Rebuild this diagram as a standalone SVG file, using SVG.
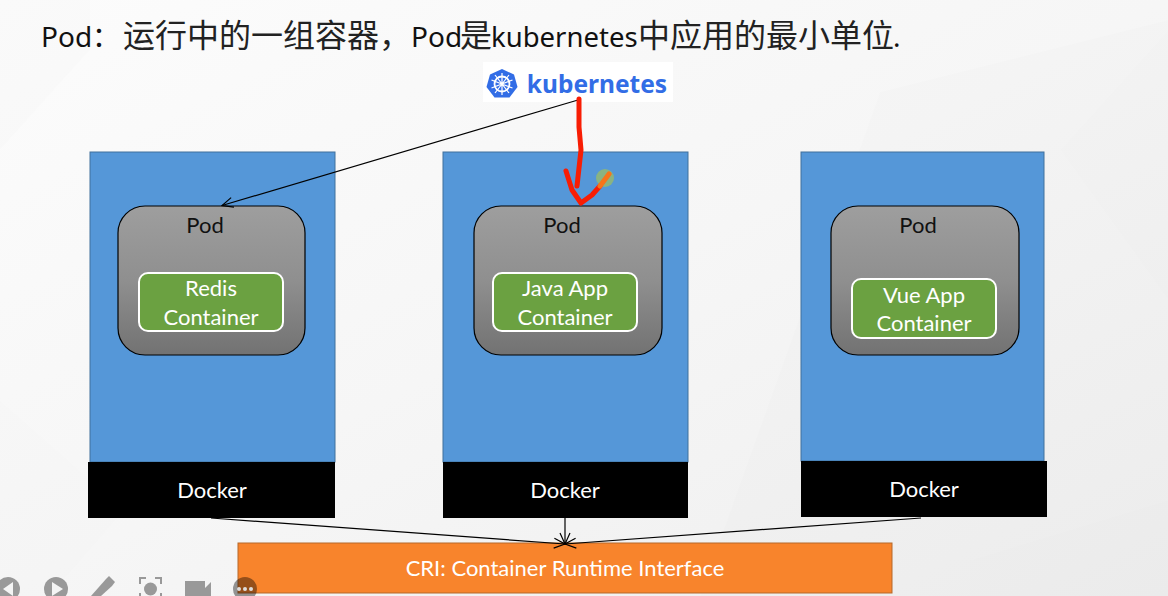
<svg xmlns="http://www.w3.org/2000/svg" width="1168" height="596" viewBox="0 0 1168 596">
<style>
.host{fill:#5597d8;stroke:#41719c;stroke-width:1}
.dock{fill:#000}
.pod{fill:url(#podg);stroke:#000;stroke-width:1.2}
.ctr{fill:#6ba141;stroke:#fff;stroke-width:2}
text{font-family:"Lato","Noto Sans CJK SC",sans-serif;text-anchor:middle}
.p{font-size:22px;fill:#111}
.c{font-size:22px;fill:#fff}
.d{font-size:22px;fill:#fff}
.t{font-family:"Noto Sans","Noto Sans CJK SC",sans-serif;font-size:28px;fill:#111;text-anchor:start}
.z{font-family:"Noto Sans CJK SC",sans-serif;font-size:32px;fill:#222}
.line{fill:none;stroke:#000;stroke-width:1.2}
.ink{fill:none;stroke:#f81d04;stroke-width:5;stroke-linecap:round;stroke-linejoin:round}
.ui{fill:#999}
</style>
<defs>
<linearGradient id="podg" x1="0" y1="0" x2="0" y2="1"><stop offset="0" stop-color="#9e9e9e"/><stop offset="0.5" stop-color="#8f8f8f"/><stop offset="1" stop-color="#727272"/></linearGradient>
<linearGradient id="bg" x1="0" y1="0" x2="1" y2="1"><stop offset="0" stop-color="#fcfcfc"/><stop offset="0.5" stop-color="#f6f6f6"/><stop offset="1" stop-color="#eeeeee"/></linearGradient>
<marker id="arr" viewBox="0 0 14 12" refX="13" refY="6" markerWidth="14" markerHeight="12" markerUnits="userSpaceOnUse" orient="auto"><path d="M2 1L13 6L2 11" fill="none" stroke="#000" stroke-width="1.2"/></marker>
</defs>
<rect width="1168" height="596" fill="url(#bg)"/>
<path d="M880 92L1168 20V596H700ZM0 150L90 50V0H0Z" fill="#000" opacity="0.006"/>
<path d="M1168 30L1060 150L1168 300ZM970 596L970 560L1168 500V596ZM50 596L125 510L0 400V596Z" fill="#000" opacity="0.005"/>
<text class="t" x="41" y="47">Pod：<tspan class="z" x="123">运行中的一组容器，</tspan><tspan x="411">Pod</tspan><tspan class="z" x="460">是</tspan><tspan x="491" style="font-size:27.500px">kubernetes</tspan><tspan class="z" x="638">中应用的最小单位</tspan><tspan x="893">.</tspan></text>

<g id="k8s-logo">
<rect x="483" y="62" width="190" height="40" fill="#fff"/>
<path d="M502 69L514 74.500L517.500 87L509.500 97.500H494.500L486.500 87L490 74.500Z" fill="#326de6"/>
<circle cx="502" cy="84" r="7.500" fill="none" stroke="#fff" stroke-width="1.800"/>
<path d="M502 73V95M491.500 80L512.500 88M512.500 80L491.500 88M495 93L509 75M509 93L495 75" stroke="#fff" stroke-width="1.200"/>
<text x="597" y="93" style="font-family:'Noto Sans',sans-serif;font-size:24.500px;font-weight:700" fill="#326de6">kubernetes</text>
</g>

<g id="host-1">
<rect class="host" x="90" y="152" width="245" height="310"/>
<rect class="dock" x="88" y="462" width="247" height="56"/>
<text class="d" x="212" y="498">Docker</text>
</g>
<g id="host-2">
<rect class="host" x="443" y="152" width="245" height="310"/>
<rect class="dock" x="443" y="462" width="245" height="56"/>
<text class="d" x="565" y="498">Docker</text>
</g>
<g id="host-3">
<rect class="host" x="801" y="152" width="243" height="309"/>
<rect class="dock" x="801" y="461" width="246" height="56"/>
<text class="d" x="924" y="497">Docker</text>
</g>

<g id="pod-1">
<rect class="pod" x="118" y="206" width="187" height="149" rx="27"/>
<text class="p" x="205" y="233">Pod</text>
<rect class="ctr" x="139" y="273" width="144" height="58" rx="9"/>
<text class="c" x="211" y="296">Redis</text>
<text class="c" x="211" y="325">Container</text>
</g>
<g id="pod-2">
<rect class="pod" x="474" y="206" width="188" height="149" rx="27"/>
<text class="p" x="562" y="233">Pod</text>
<rect class="ctr" x="493" y="273" width="144" height="58" rx="9"/>
<text class="c" x="565" y="296">Java App</text>
<text class="c" x="565" y="325">Container</text>
</g>
<g id="pod-3">
<rect class="pod" x="831" y="206" width="188" height="149" rx="27"/>
<text class="p" x="918" y="233">Pod</text>
<rect class="ctr" x="852" y="279" width="144" height="59" rx="9"/>
<text class="c" x="924" y="303">Vue App</text>
<text class="c" x="924" y="331">Container</text>
</g>

<g id="cri">
<rect x="238" y="543" width="654" height="50" fill="#f8842c" stroke="#b5682a" stroke-width="1"/>
<text x="565" y="576" style="font-size:22px" fill="#fff">CRI: Container Runtime Interface</text>
</g>

<g id="connectors">
<path class="line" d="M578 100L222 205.500" marker-end="url(#arr)"/>
<path class="line" d="M211 518L565 544" marker-end="url(#arr)"/>
<path class="line" d="M565 518V544" marker-end="url(#arr)"/>
<path class="line" d="M921 518L565 544" marker-end="url(#arr)"/>
</g>

<g id="annotation">
<circle cx="605" cy="178" r="9" fill="#8fb67a" opacity="0.9"/>
<path class="ink" d="M579 99L579 127L581 150L577 186"/>
<path class="ink" d="M566 171L572 190L581 203L592 195L600 186"/>
<path d="M600 186L609 174" fill="none" stroke="#f7741a" stroke-width="5" stroke-linecap="round"/>
</g>

<g id="toolbar">
<circle cx="8" cy="589" r="12" class="ui"/><path d="M13 582V596L3 589Z" fill="#f4f4f4"/>
<circle cx="56" cy="589" r="12" class="ui"/><path d="M52 582V596L63 589Z" fill="#f4f4f4"/>
<path d="M91 596L106 579L109 576L115 582L112 586L101 596Z" class="ui"/>
<path d="M140 584V578H146M155 578H161V584M140 593V596M161 593V596" fill="none" stroke="#999" stroke-width="2"/><circle cx="150.500" cy="589" r="6.500" class="ui"/>
<path d="M185 581H205V596H185ZM205 588L211 582V596H205Z" class="ui"/>
<circle cx="245" cy="589" r="12" fill="#000" opacity="0.4"/>
<circle cx="239" cy="589" r="2" fill="#ddd"/><circle cx="245" cy="589" r="2" fill="#ddd"/><circle cx="251" cy="589" r="2" fill="#ddd"/>
</g>
</svg>
